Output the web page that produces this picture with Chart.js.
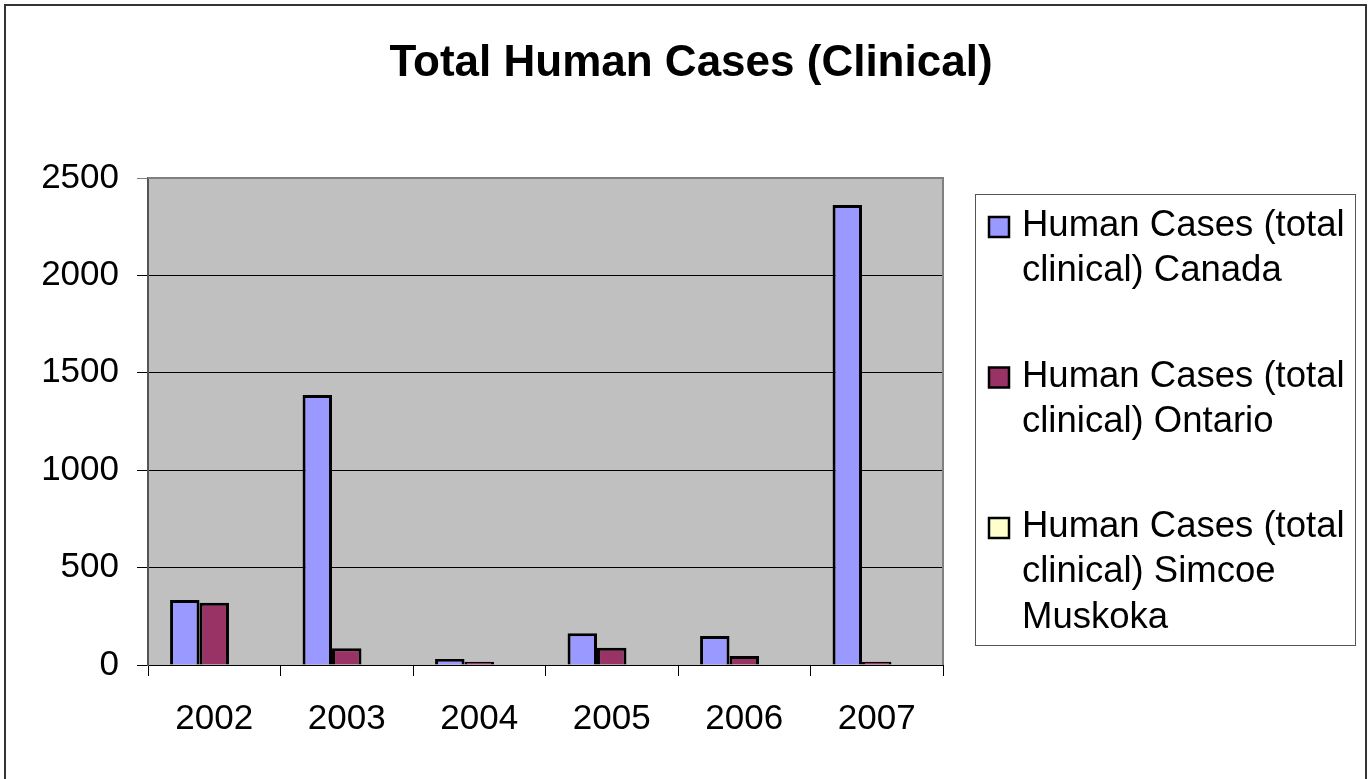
<!DOCTYPE html>
<html>
<head>
<meta charset="utf-8">
<script src="https://cdn.jsdelivr.net/npm/chart.js@4.4.1/dist/chart.umd.min.js"></script>
<style>
  html, body { margin: 0; padding: 0; background: #fff; }
  #wrap { width: 1369px; height: 779px; }
</style>
</head>
<body>
<div id="wrap"><canvas id="chart" width="1369" height="779"></canvas></div>
<script>
const chartTitle = "Total Human Cases (Clinical)";
const years = ["2002", "2003", "2004", "2005", "2006", "2007"];
const canada = [334, 1386, 31, 163, 149, 2361];
const ontario = [320, 86, 17, 89, 46, 17];
const simcoe = [0, 0, 0, 0, 0, 0];
const seriesNames = [
  "Human Cases (total clinical) Canada",
  "Human Cases (total clinical) Ontario",
  "Human Cases (total clinical) Simcoe Muskoka"
];
const seriesColors = ["#9999ff", "#993366", "#ffffcc"];

const font = "'Liberation Sans', Arial, Helvetica, sans-serif";

// fond, cadre, titre et légende dessinés à la main
const decor = {
  id: "decor",
  beforeDraw(chart) {
    const { ctx, chartArea: a } = chart;
    ctx.save();
    ctx.fillStyle = "#fff";
    ctx.fillRect(0, 0, chart.width, chart.height);
    ctx.strokeStyle = "#333";
    ctx.lineWidth = 2;
    ctx.strokeRect(5, 5, 1361, 800);
    ctx.fillStyle = "#c0c0c0";
    ctx.fillRect(a.left, a.top, a.width, a.height);
    ctx.restore();
  },
  beforeDatasetsDraw(chart) {
    const { ctx, chartArea: a } = chart;
    ctx.save();
    ctx.strokeStyle = "#808080";
    ctx.lineWidth = 2;
    ctx.beginPath();
    ctx.moveTo(a.left, a.top);
    ctx.lineTo(a.right, a.top);
    ctx.lineTo(a.right, a.bottom);
    ctx.stroke();
    ctx.restore();
  },
  afterDraw(chart) {
    const ctx = chart.ctx;
    ctx.save();
    ctx.fillStyle = "#000";
    ctx.font = "bold 44px " + font;
    ctx.textAlign = "center";
    ctx.textBaseline = "alphabetic";
    ctx.fillText(chartTitle, 691, 76);

    // légende
    ctx.strokeStyle = "#555";
    ctx.lineWidth = 1;
    ctx.strokeRect(975.5, 194.5, 380, 451);
    ctx.font = "36.5px " + font;
    ctx.textAlign = "left";
    chart.data.datasets.forEach((ds, i) => {
      const base = 236 + i * 150.5;
      ctx.fillStyle = ds.backgroundColor;
      ctx.fillRect(989, base - 19, 20, 20);
      ctx.strokeStyle = "#000";
      ctx.lineWidth = 2.5;
      ctx.strokeRect(989, base - 19, 20, 20);
      const words = ds.label.split(" ");
      const lines = [];
      let cur = "";
      words.forEach(w => {
        const t = cur ? cur + " " + w : w;
        if (ctx.measureText(t).width > 330 && cur) { lines.push(cur); cur = w; }
        else cur = t;
      });
      lines.push(cur);
      ctx.fillStyle = "#000";
      lines.forEach((l, j) => ctx.fillText(l, 1022, base + j * 45.3));
    });
    ctx.restore();
  }
};

new Chart(document.getElementById("chart"), {
  type: "bar",
  data: {
    labels: years,
    datasets: [
      { label: seriesNames[0], data: canada, backgroundColor: seriesColors[0] },
      { label: seriesNames[1], data: ontario, backgroundColor: seriesColors[1] },
      { label: seriesNames[2], data: simcoe, backgroundColor: seriesColors[2] }
    ].map(d => Object.assign(d, { borderColor: "#000", borderWidth: 3, categoryPercentage: 0.667, barPercentage: 1 }))
  },
  options: {
    responsive: false,
    animation: false,
    layout: { padding: { top: 178, right: 426, left: 0, bottom: 0 } },
    plugins: { legend: { display: false }, title: { display: false }, tooltip: { enabled: false } },
    scales: {
      x: {
        afterFit(s) { s.height = 114; },
        grid: { offset: true, drawOnChartArea: false, tickLength: 11, color: "#000" },
        border: { color: "#000", width: 1 },
        ticks: { color: "#000", font: { family: font, size: 35 }, padding: 22 }
      },
      y: {
        min: 0,
        max: 2500,
        afterFit(s) { s.width = 148; },
        grid: {
          tickLength: 11,
          color: c => (c.tick && c.tick.value === 2500 ? "#808080" : "#000")
        },
        border: { color: "#555", width: 2 },
        ticks: {
          stepSize: 500,
          color: "#000",
          font: { family: font, size: 35 },
          padding: 18,
          callback: v => String(v)
        }
      }
    }
  },
  plugins: [decor]
});
</script>
</body>
</html>
